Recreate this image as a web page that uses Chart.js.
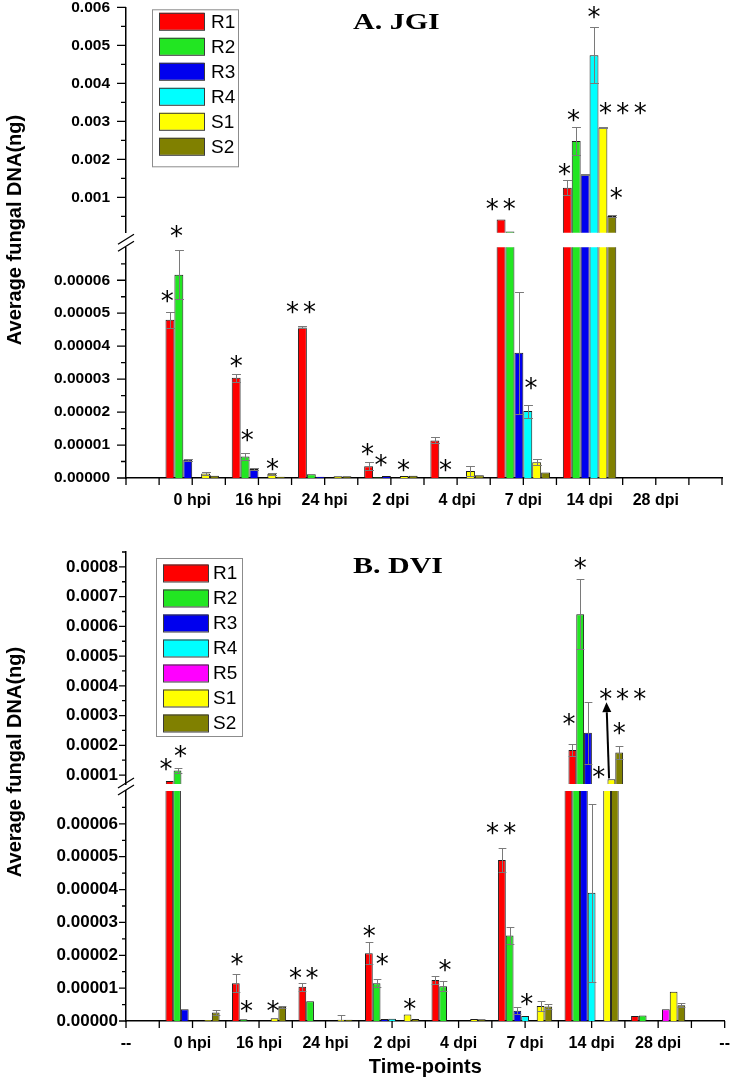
<!DOCTYPE html>
<html><head><meta charset="utf-8">
<script src="https://cdn.jsdelivr.net/npm/chart.js@4.4.1/dist/chart.umd.min.js"></script>
<style>
html,body{margin:0;padding:0;background:#fff}
body{width:736px;height:1079px;position:relative;overflow:hidden}
canvas{position:absolute;left:0}
.ttl{position:absolute;font:bold 24px/24px "Liberation Serif","Times New Roman",serif;transform-origin:0 0;transform:scaleX(1.25);white-space:nowrap;color:#000}
.ylab{position:absolute;font:bold 20px/20px "Liberation Sans",Arial,sans-serif;transform:translate(-50%,-50%) rotate(-90deg);white-space:nowrap;color:#000}
</style></head><body>
<canvas id="aL" width="736" height="290" style="top:230px"></canvas>
<canvas id="aU" width="736" height="260" style="top:-10px"></canvas>
<canvas id="bL" width="736" height="306" style="top:774px"></canvas>
<canvas id="bU" width="736" height="261" style="top:535px"></canvas>
<div class="ttl" style="left:353px;top:9px">A. JGI</div>
<div class="ttl" style="left:353px;top:553px">B. DVI</div>
<div class="ylab" style="left:14px;top:230px">Average fungal DNA(ng)</div>
<div class="ylab" style="left:14px;top:762px">Average fungal DNA(ng)</div>
<script>
// ---------------- DATA ----------------
const catsA = ['', '0 hpi', '16 hpi', '24 hpi', '2 dpi', '4 dpi', '7 dpi', '14 dpi', '28 dpi', ''];
const catsB = ['--', '0 hpi', '16 hpi', '24 hpi', '2 dpi', '4 dpi', '7 dpi', '14 dpi', '28 dpi', '--'];
const seriesA = ['R1', 'R2', 'R3', 'R4', 'S1', 'S2'];
const seriesB = ['R1', 'R2', 'R3', 'R4', 'R5', 'S1', 'S2'];

// Panel A (JGI)
const A_R1 = [null, 4.8e-5, 3.04e-5, 4.57e-5, 3.6e-6, 1.14e-5, 4.2e-4, 1.25e-3, 0, null];
const A_R1_err = [0, 2.4e-6, 1.2e-6, 3e-7, 1.2e-6, 9e-7, 0, 2.0e-4, 0, 0];
const A_R2 = [null, 6.17e-5, 6.5e-6, 1.1e-6, 2e-7, 1e-7, 1.0e-4, 2.48e-3, 0, null];
const A_R2_err = [0, 7.5e-6, 1.0e-6, 0, 0, 0, 0, 3.6e-4, 0, 0];
const A_R3 = [null, 5.5e-6, 2.7e-6, 4e-7, 6e-7, 0, 3.8e-5, 1.6e-3, 0, null];
const A_R3_err = [0, 4e-7, 3e-7, 0, 0, 0, 1.85e-5, 2e-5, 0, 0];
const A_R4 = [null, 0, 0, 0, 0, 0, 2.03e-5, 4.74e-3, 0, null];
const A_R4_err = [0, 0, 0, 0, 0, 0, 2e-6, 7.4e-4, 0, 0];
const A_S1 = [null, 1.4e-6, 1.3e-6, 5e-7, 6e-7, 2.1e-6, 4.8e-6, 2.84e-3, 0, null];
const A_S1_err = [0, 4e-7, 3e-7, 0, 0, 1.6e-6, 9e-7, 2e-5, 0, 0];
const A_S2 = [null, 7e-7, 4e-7, 5e-7, 7e-7, 8e-7, 1.7e-6, 5.1e-4, 0, null];
const A_S2_err = [0, 0, 0, 0, 0, 0, 0, 2e-5, 0, 0];

// Panel B (DVI)
const B_R1 = [null, 8.0e-5, 1.15e-5, 1.04e-5, 2.06e-5, 1.25e-5, 4.9e-5, 1.84e-4, 1.5e-6, null];
const B_R1_err = [0, 0, 2.8e-6, 1.2e-6, 3.4e-6, 1.3e-6, 3.7e-6, 2.0e-5, 0, 0];
const B_R2 = [null, 1.15e-4, 5e-7, 6.0e-6, 1.15e-5, 1.06e-5, 2.6e-5, 6.41e-4, 1.7e-6, null];
const B_R2_err = [0, 8e-6, 0, 0, 1.2e-6, 1.6e-6, 2.7e-6, 1.18e-4, 0, 0];
const B_R3 = [null, 3.6e-6, 0, 0, 6e-7, 0, 3.1e-6, 2.42e-4, 0, null];
const B_R3_err = [0, 0, 0, 0, 0, 0, 1.1e-6, 1.05e-4, 0, 0];
const B_R4 = [null, 0, 0, 0, 7e-7, 0, 1.5e-6, 3.9e-5, 0, null];
const B_R4_err = [0, 0, 0, 0, 0, 0, 0, 2.7e-5, 0, 0];
const B_R5 = [null, 0, 0, 0, 0, 0, 0, 0, 3.6e-6, null];
const B_R5_err = [0, 0, 0, 0, 0, 0, 0, 0, 0, 0];
const B_S1 = [null, 3e-7, 8e-7, 4e-7, 2.0e-6, 6e-7, 4.6e-6, 8.6e-5, 8.9e-6, null];
const B_S1_err = [0, 0, 0, 1.3e-6, 0, 0, 1.6e-6, 0, 0, 0];
const B_S2 = [null, 2.6e-6, 4.3e-6, 4e-7, 6e-7, 5e-7, 4.4e-6, 1.76e-4, 4.8e-6, null];
const B_S2_err = [0, 7e-7, 4e-7, 0, 0, 0, 7e-7, 2.2e-5, 6e-7, 0];

// axis ranges (broken axes) and tick values
const A_upperRange = [7e-5, 0.006];
const A_lowerRange = [0, 7e-5];
const B_upperRange = [7e-5, 0.00085];
const B_lowerRange = [0, 7e-5];
const A_upperTicks = [0.001, 0.002, 0.003, 0.004, 0.005, 0.006];
const A_upperMinor = [0.0005, 0.0015, 0.0025, 0.0035, 0.0045, 0.0055];
const A_lowerTicks = [0, 1e-5, 2e-5, 3e-5, 4e-5, 5e-5, 6e-5];
const A_lowerMinor = [5e-6, 1.5e-5, 2.5e-5, 3.5e-5, 4.5e-5, 5.5e-5, 6.5e-5];
const B_upperTicks = [0.0001, 0.0002, 0.0003, 0.0004, 0.0005, 0.0006, 0.0007, 0.0008];
const B_upperMinor = [0.00015, 0.00025, 0.00035, 0.00045, 0.00055, 0.00065, 0.00075, 0.00085];
const B_lowerTicks = [0, 1e-5, 2e-5, 3e-5, 4e-5, 5e-5, 6e-5];
const B_lowerMinor = [5e-6, 1.5e-5, 2.5e-5, 3.5e-5, 4.5e-5, 5.5e-5, 6.5e-5];

// significance stars: [category index, dataset index, offset in bar widths, value]
const starsA_upper = [[1,1,-0.26,1.54e-4],[6,0,-1.0,8.4e-4],[6,1,-0.07,8.4e-4],[7,0,-0.3,1.78e-3],[7,1,-0.3,3.19e-3],[7,3,0,5.9e-3],[7,4,0.3,3.38e-3],[7,4,2.24,3.38e-3],[7,4,4.2,3.38e-3],[7,5,0.5,1.14e-3]];
const starsA_lower = [[1,0,-0.3,5.55e-5],[2,0,0,3.58e-5],[2,1,0.23,1.35e-5],[2,4,0.07,4.5e-6],[3,0,-1.1,5.22e-5],[3,1,-0.19,5.22e-5],[4,0,-0.13,9.2e-6],[4,1,0.38,5.7e-6],[4,4,-0.08,4.2e-6],[5,1,0.19,4.2e-6],[6,3,0.37,2.92e-5]];
const starsB_upper = [[1,0,-0.46,1.39e-4],[1,1,0.37,1.84e-4],[7,0,-0.42,2.93e-4],[7,1,0,8.15e-4],[7,3,0.38,1.145e-4],[7,5,-0.72,3.77e-4],[7,5,1.42,3.77e-4],[7,5,3.64,3.77e-4],[7,6,0,2.63e-4]];
const starsB_lower = [[2,0,0.14,1.91e-5],[2,1,0.37,4.9e-6],[2,5,-0.2,4.9e-6],[3,0,-0.88,1.5e-5],[3,1,0.24,1.5e-5],[4,0,0.05,2.77e-5],[4,1,0.72,1.91e-5],[4,5,0.27,5.4e-6],[5,1,0.24,1.75e-5],[6,0,-1.23,5.9e-5],[6,1,0,5.9e-5],[6,3,0.22,6.9e-6]];
const arrowB = {from: [7,5,-0.3,8.9e-5], to: [7,5,-0.63,3.45e-4]};

// ---------------- STYLE ----------------
const COL = {R1:'#ff0000', R2:'#22e622', R3:'#0000ee', R4:'#00ffff', R5:'#ff00ff', S1:'#ffff00', S2:'#808000'};
Chart.defaults.color = '#000';
Chart.defaults.font.family = '"Liberation Sans", Arial, sans-serif';

function mkDatasets(names, vals, errs, catPct) {
  return names.map((n, i) => ({
    label: n, data: vals[i].slice(), err: errs[i], backgroundColor: COL[n],
    borderColor: '#1e1e1e', borderWidth: 1, categoryPercentage: catPct, barPercentage: 1, clip: 0
  }));
}

function makePlugin(cfg) {
  return {
    id: 'annot',
    afterDatasetsDraw(chart) {
      const ctx = chart.ctx, a = chart.chartArea, ys = chart.scales.y;
      ctx.save();
      ctx.beginPath(); ctx.rect(a.left, a.top, a.right - a.left, a.bottom - a.top); ctx.clip();
      ctx.strokeStyle = '#7a7a7a'; ctx.lineWidth = 1;
      chart.data.datasets.forEach((ds, di) => {
        const meta = chart.getDatasetMeta(di);
        ds.err.forEach((e, i) => {
          if (!e || ds.data[i] == null) return;
          const el = meta.data[i], v = ds.data[i];
          const x = Math.round(el.x) + 0.5, hw = el.width / 2;
          const yt = Math.round(ys.getPixelForValue(v + e)) + 0.5, yb = Math.round(ys.getPixelForValue(v - e)) + 0.5;
          ctx.beginPath();
          ctx.moveTo(x, yt); ctx.lineTo(x, yb);
          ctx.moveTo(x - hw, yt); ctx.lineTo(x + hw, yt);
          ctx.moveTo(x - hw, yb); ctx.lineTo(x + hw, yb);
          ctx.stroke();
        });
      });
      ctx.restore();
    },
    afterDraw(chart) {
      const ctx = chart.ctx, a = chart.chartArea, ys = chart.scales.y, xs = chart.scales.x;
      ctx.save();
      ctx.strokeStyle = '#000'; ctx.lineWidth = 1.3;
      ctx.beginPath();
      cfg.major.forEach(v => { const p = ys.getPixelForValue(v); ctx.moveTo(a.left - cfg.majLen, p); ctx.lineTo(a.left, p); });
      cfg.minor.forEach(v => { const p = ys.getPixelForValue(v); ctx.moveTo(a.left - cfg.minLen, p); ctx.lineTo(a.left, p); });
      if (cfg.xTicks) {
        for (let i = 0; i <= 2 * (chart.data.labels.length - 1); i++) {
          const p = xs.getPixelForValue(i / 2);
          ctx.moveTo(p, a.bottom); ctx.lineTo(p, a.bottom + 7);
        }
      }
      ctx.stroke();
      if (cfg.brk) {
        ctx.lineWidth = 1.3; ctx.beginPath();
        [a.top - 8, a.top - 1].forEach(y => { ctx.moveTo(a.left - 8, y + 5); ctx.lineTo(a.left + 8, y - 5); });
        ctx.stroke();
      }
      const pt = s => {
        const el = chart.getDatasetMeta(s[1]).data[s[0]];
        return [el.x + s[2] * el.width, ys.getPixelForValue(s[3])];
      };
      ctx.fillStyle = '#000';
      ctx.font = '26px "DejaVu Sans"';
      ctx.textAlign = 'center'; ctx.textBaseline = 'alphabetic';
      cfg.stars.forEach(s => { const [x, y] = pt(s); ctx.fillText('*', x, y + 15); });
      if (cfg.arrow) {
        const [x0, y0] = pt(cfg.arrow.from), [x1, y1] = pt(cfg.arrow.to);
        const ang = Math.atan2(y1 - y0, x1 - x0), hl = 10, hwid = 4.5;
        const bx = x1 - hl * Math.cos(ang), by = y1 - hl * Math.sin(ang);
        ctx.strokeStyle = '#000'; ctx.lineWidth = 2;
        ctx.beginPath(); ctx.moveTo(x0, y0); ctx.lineTo(bx, by); ctx.stroke();
        ctx.beginPath(); ctx.moveTo(x1, y1);
        ctx.lineTo(bx + hwid * Math.sin(ang), by - hwid * Math.cos(ang));
        ctx.lineTo(bx - hwid * Math.sin(ang), by + hwid * Math.cos(ang));
        ctx.closePath(); ctx.fill();
      }
      if (cfg.legend) {
        const L = cfg.legend, bx = a.left + L.dx, by = a.top + L.dy;
        ctx.fillStyle = '#fff'; ctx.fillRect(bx, by, L.w, L.h);
        ctx.strokeStyle = '#8c8c8c'; ctx.lineWidth = 1; ctx.strokeRect(bx + 0.5, by + 0.5, L.w, L.h);
        ctx.font = '19px "Liberation Sans"'; ctx.textAlign = 'left'; ctx.textBaseline = 'middle';
        chart.data.datasets.forEach((ds, i) => {
          const cy = by + L.first + i * L.step;
          ctx.fillStyle = ds.backgroundColor; ctx.fillRect(bx + L.sx, cy - L.sh / 2, L.sw, L.sh);
          ctx.strokeStyle = '#3a3a3a'; ctx.strokeRect(bx + L.sx + 0.5, cy - L.sh / 2 + 0.5, L.sw, L.sh);
          ctx.fillStyle = '#000'; ctx.fillText(ds.label, bx + L.tx, cy + 1);
        });
      }
      ctx.restore();
    }
  };
}

function makeChart(id, o) {
  return new Chart(document.getElementById(id), {
    type: 'bar',
    data: {labels: o.cats, datasets: o.datasets},
    options: {
      responsive: false, animation: false, devicePixelRatio: 1,
      layout: {padding: {left: 0, right: o.padR, top: o.padT, bottom: o.padB}},
      plugins: {legend: {display: false}, tooltip: {enabled: false}},
      scales: {
        x: {
          display: o.showX, offset: false,
          grid: {display: false, drawTicks: true, tickLength: 7},
          border: {display: o.showX, color: '#000', width: 1.5},
          ticks: {color: '#000', font: {weight: 'bold', size: 16}, padding: 6, autoSkip: false, maxRotation: 0},
          title: o.xTitle || {display: false}
        },
        y: {
          min: o.range[0], max: o.range[1],
          afterFit: s => { s.width = 126; },
          afterBuildTicks: s => { s.ticks = o.ticks.map(v => ({value: v})); },
          grid: {display: false, drawTicks: true, tickLength: o.tl},
          border: {display: true, color: '#000', width: 1.5},
          ticks: {color: '#000', font: {weight: 'bold', size: o.fs}, padding: o.tp, autoSkip: false,
                  callback: v => Number(v).toFixed(o.dec)}
        }
      }
    },
    plugins: [makePlugin(o.cfg)]
  });
}

const valsA = [A_R1, A_R2, A_R3, A_R4, A_S1, A_S2];
const errsA = [A_R1_err, A_R2_err, A_R3_err, A_R4_err, A_S1_err, A_S2_err];
const valsB = [B_R1, B_R2, B_R3, B_R4, B_R5, B_S1, B_S2];
const errsB = [B_R1_err, B_R2_err, B_R3_err, B_R4_err, B_R5_err, B_S1_err, B_S2_err];

makeChart('aL', {cats: catsA, datasets: mkDatasets(seriesA, valsA, errsA, 0.807), padR: 14, padT: 17, padB: 3.8, showX: true,
  range: A_lowerRange, ticks: A_lowerTicks, dec: 5, tl: 8, tp: 8, fs: 15.5,
  cfg: {major: A_lowerTicks, minor: A_lowerMinor, majLen: 9, minLen: 5, xTicks: true, brk: true, stars: starsA_lower}});
makeChart('aU', {cats: catsA, datasets: mkDatasets(seriesA, valsA, errsA, 0.807), padR: 14, padT: 17, padB: 12, showX: false,
  range: A_upperRange, ticks: A_upperTicks, dec: 3, tl: 8, tp: 8, fs: 15.5,
  cfg: {major: A_upperTicks, minor: A_upperMinor, majLen: 9, minLen: 5, xTicks: false, stars: starsA_upper,
        legend: {dx: 26, dy: 2, w: 86, h: 157, first: 12, step: 25, sx: 7, sw: 45, sh: 17, tx: 59}}});
makeChart('bL', {cats: catsB, datasets: mkDatasets(seriesB, valsB, errsB, 0.814), padR: 6, padT: 17, padB: 0.8, showX: true,
  range: B_lowerRange, ticks: B_lowerTicks, dec: 5, tl: 7, tp: 1, fs: 17,
  xTitle: {display: true, text: 'Time-points', color: '#000', font: {weight: 'bold', size: 20}, padding: {top: -4, bottom: 0}},
  cfg: {major: B_lowerTicks, minor: B_lowerMinor, majLen: 7, minLen: 4, xTicks: true, brk: true, stars: starsB_lower}});
makeChart('bU', {cats: catsB, datasets: mkDatasets(seriesB, valsB, errsB, 0.814), padR: 6, padT: 17, padB: 12, showX: false,
  range: B_upperRange, ticks: B_upperTicks, dec: 4, tl: 7, tp: 1, fs: 17,
  cfg: {major: B_upperTicks, minor: B_upperMinor, majLen: 7, minLen: 4, xTicks: false, stars: starsB_upper, arrow: arrowB,
        legend: {dx: 30, dy: 6, w: 86, h: 178, first: 15, step: 25, sx: 7, sw: 45, sh: 17, tx: 57}}});
</script>
</body></html>
